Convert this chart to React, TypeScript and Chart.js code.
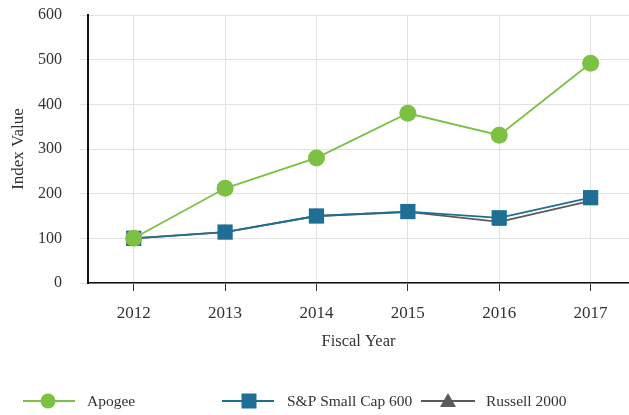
import React, { useEffect, useRef } from "react";
import { Chart, registerables } from "chart.js";

Chart.register(...registerables);

const years = [2012, 2013, 2014, 2015, 2016, 2017];
const apogee = [100, 212, 280, 380, 331, 492];
const spSmallCap = [100, 114, 150, 160, 146, 191];
const russell = [100, 114, 150, 159, 137, 184];
const yTicks = [0, 100, 200, 300, 400, 500, 600];

const GREEN = "#7cc143";
const BLUE = "#1f6f95";
const GRAY = "#5a5a5a";
const FONT = "'Liberation Serif', 'Times New Roman', serif";

const legendPlugin = {
  id: "customLegend",
  afterDraw(chart: any) {
    const ctx = chart.ctx;
    const y = 401;
    const items = [
      { x1: 23, x2: 75, mx: 48, tx: 87, label: "Apogee", color: GREEN, style: "circle" },
      { x1: 222, x2: 274, mx: 249, tx: 287, label: "S&P Small Cap 600", color: BLUE, style: "rect" },
      { x1: 421, x2: 475, mx: 448, tx: 486, label: "Russell 2000", color: GRAY, style: "triangle" },
    ];
    ctx.save();
    for (const it of items) {
      ctx.strokeStyle = it.color;
      ctx.lineWidth = 2;
      ctx.beginPath();
      ctx.moveTo(it.x1, y);
      ctx.lineTo(it.x2, y);
      ctx.stroke();
      ctx.fillStyle = it.color;
      ctx.beginPath();
      if (it.style === "circle") {
        ctx.arc(it.mx, y, 7.5, 0, Math.PI * 2);
      } else if (it.style === "rect") {
        ctx.rect(it.mx - 7.5, y - 7.5, 15, 15);
      } else {
        ctx.moveTo(it.mx, y - 8);
        ctx.lineTo(it.mx + 8, y + 6);
        ctx.lineTo(it.mx - 8, y + 6);
        ctx.closePath();
      }
      ctx.fill();
      ctx.fillStyle = "#333";
      ctx.font = `15.5px ${FONT}`;
      ctx.textBaseline = "middle";
      ctx.textAlign = "left";
      ctx.fillText(it.label, it.tx, y + 1);
    }
    ctx.restore();
  },
};

export default function App() {
  const ref = useRef<HTMLCanvasElement | null>(null);
  useEffect(() => {
    if (!ref.current) return;
    const mk = (arr: number[]) => years.map((x, i) => ({ x, y: arr[i] }));
    const chart = new Chart(ref.current, {
      type: "line",
      data: {
        datasets: [
          {
            label: "Apogee",
            data: mk(apogee),
            borderColor: GREEN,
            backgroundColor: GREEN,
            borderWidth: 1.8,
            pointStyle: "circle",
            pointRadius: 8.5,
            pointBorderWidth: 0,
          },
          {
            label: "S&P Small Cap 600",
            data: mk(spSmallCap),
            borderColor: BLUE,
            backgroundColor: BLUE,
            borderWidth: 1.8,
            pointStyle: "rect",
            pointRadius: 10.8,
            pointBorderWidth: 0,
          },
          {
            label: "Russell 2000",
            data: mk(russell),
            borderColor: GRAY,
            backgroundColor: GRAY,
            borderWidth: 1.8,
            pointStyle: "triangle",
            pointRadius: 8,
            pointBorderWidth: 0,
          },
        ],
      },
      options: {
        responsive: false,
        animation: false,
        layout: { autoPadding: false, padding: { top: 15, right: 0, bottom: 50, left: 0 } },
        plugins: { legend: { display: false }, tooltip: { enabled: false } },
        scales: {
          x: {
            type: "linear",
            min: years[0] - 0.5,
            max: 2017.42,
            afterBuildTicks: (s: any) => {
              s.ticks = years.map((v) => ({ value: v }));
            },
            afterFit: (s: any) => {
              s.height = 82;
              s.paddingLeft = 0;
              s.paddingRight = 0;
            },
            ticks: {
              callback: (v: any) => String(v),
              color: "#333",
              font: { family: FONT, size: 17 },
              padding: 12,
              maxRotation: 0,
            },
            grid: { color: "#e2e2e2", tickColor: "#333", tickLength: 8, lineWidth: 1 },
            border: { color: "#111", width: 1.5 },
            title: {
              display: true,
              text: "Fiscal Year",
              color: "#333",
              font: { family: FONT, size: 16.5 },
              padding: { top: 4, bottom: 13 },
            },
          },
          y: {
            min: 0,
            max: 600,
            afterBuildTicks: (s: any) => {
              s.ticks = yTicks.map((v) => ({ value: v }));
            },
            afterFit: (s: any) => {
              s.width = 88;
              s.paddingTop = 0;
              s.paddingBottom = 0;
            },
            ticks: {
              color: "#333",
              font: { family: FONT, size: 16 },
              padding: 18,
            },
            grid: { color: "#e2e2e2", tickLength: 8, lineWidth: 1 },
            border: { color: "#111", width: 2 },
            title: {
              display: true,
              text: "Index Value",
              color: "#333",
              font: { family: FONT, size: 17 },
              padding: { top: 8, bottom: 4 },
            },
          },
        },
      },
      plugins: [legendPlugin],
    } as any);
    return () => chart.destroy();
  }, []);
  return (
    <div style={{ position: "absolute", left: 0, top: 0, width: 629, height: 415, background: "#fff" }}>
      <canvas ref={ref} width={629} height={415} style={{ display: "block" }} />
    </div>
  );
}
